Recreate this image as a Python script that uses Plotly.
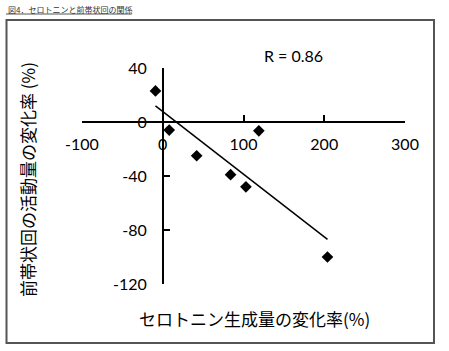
import numpy as np
import plotly.graph_objects as go

# Data
serotonin_change = [-9, 8, 119, 42, 84, 103, 204]
acc_change = [23, -6, -6.5, -25, -39, -48, -100]

x_ticks = [-100, 0, 100, 200, 300]
x_tick_text = ["-100", "0", "100", "200", "300"]
y_ticks = [-120, -80, -40, 0, 40]
y_tick_text = ["-120", "-80", "-40", "0", "40"]

chart_title = "図4．セロトニンと前帯状回の関係"
x_title = "セロトニン生成量の変化率(%)"
y_title = "前帯状回の活動量の変化率 (%)"
r_label = "R = 0.86"

# Linear trend line from the data
slope, intercept = np.polyfit(serotonin_change, acc_change, 1)
tx = np.array([min(serotonin_change), max(serotonin_change)])
ty = slope * tx + intercept

CJK = "Noto Sans CJK JP"
NUM = "Lato, Noto Sans CJK JP"

fig = go.Figure()
fig.add_trace(go.Scatter(
    x=serotonin_change, y=acc_change, mode="markers",
    marker=dict(symbol="diamond", size=9, color="black"),
    showlegend=False, hoverinfo="skip"))
fig.add_trace(go.Scatter(
    x=tx, y=ty, mode="lines", line=dict(color="black", width=1.5),
    showlegend=False, hoverinfo="skip"))

xr = [-100, 300]
yr = [-120, 40]

fig.update_layout(
    width=449, height=351,
    margin=dict(l=82, r=44, t=68, b=67),
    paper_bgcolor="white", plot_bgcolor="white",
    xaxis=dict(range=xr, tickvals=x_ticks, ticktext=x_tick_text,
               showgrid=False, zeroline=False,
               showline=True, linecolor="black", linewidth=1.5,
               ticks="inside", ticklen=6, tickwidth=1.5, tickcolor="black",
               anchor="free", position=(0 - yr[0]) / (yr[1] - yr[0]),
               tickfont=dict(family=NUM, size=16, color="black"),
               ticklabelstandoff=8),
    yaxis=dict(range=yr, tickvals=y_ticks, ticktext=y_tick_text,
               showgrid=False, zeroline=False,
               showline=True, linecolor="black", linewidth=1.5,
               ticks="inside", ticklen=6, tickwidth=1.5, tickcolor="black",
               anchor="free", position=(0 - xr[0]) / (xr[1] - xr[0]),
               tickfont=dict(family=NUM, size=16, color="black"),
               ticklabelstandoff=12),
    showlegend=False,
)

pw, ph = 323.0, 216.0
def px(xp):
    return (xp - 82) / pw
def py(yp):
    return (284 - yp) / ph

# outer frame
fig.add_shape(type="rect", xref="paper", yref="paper",
              x0=px(6.5), x1=px(434), y0=py(343), y1=py(20),
              line=dict(color="#555555", width=2))
# title + underline
fig.add_annotation(text=chart_title, xref="paper", yref="paper",
                   x=px(6), y=py(9), xanchor="left", yanchor="middle",
                   showarrow=False, font=dict(family=CJK, size=8, color="#333333"))
fig.add_shape(type="line", xref="paper", yref="paper",
              x0=px(6), x1=px(132), y0=py(14), y1=py(14),
              line=dict(color="#555555", width=1))
# axis titles
fig.add_annotation(text=x_title, xref="paper", yref="paper",
                   x=px(254), y=py(318), xanchor="center", yanchor="middle",
                   showarrow=False, font=dict(family=CJK, size=17, color="black"))
fig.add_annotation(text=y_title, xref="paper", yref="paper",
                   x=px(27), y=py(180), xanchor="center", yanchor="middle",
                   textangle=-90, showarrow=False,
                   font=dict(family=CJK, size=17, color="black"))
# R label
fig.add_annotation(text=r_label, xref="paper", yref="paper",
                   x=px(293), y=py(56), xanchor="center", yanchor="middle",
                   showarrow=False, font=dict(family=NUM, size=16, color="black"))

fig.write_html("out.html")
